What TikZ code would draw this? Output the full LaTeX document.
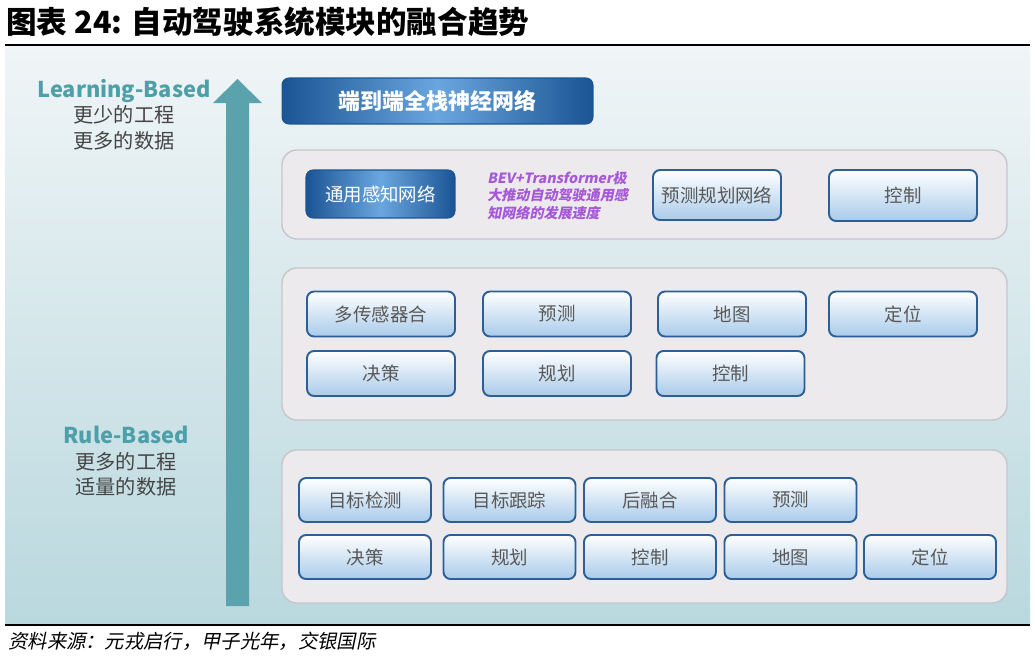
\documentclass[tikz,border=0pt]{standalone}
\usepackage{fontspec}
\usepackage{xcolor}
\setmainfont{Noto Sans}
\newfontfamily\cjk{Noto Sans CJK SC}
\newfontfamily\cjkslant[FakeSlant=0.2]{Noto Sans CJK SC}

\definecolor{bgtop}{HTML}{F0F5F7}
\definecolor{bgbottom}{HTML}{B9D8DE}
\definecolor{arrowteal}{HTML}{5AA3AD}
\definecolor{labelteal}{HTML}{4F9FA9}
\definecolor{labelgray}{HTML}{454545}
\definecolor{panelfill}{HTML}{ECEAED}
\definecolor{panelline}{HTML}{C6C6CB}
\definecolor{boxline}{HTML}{2B5F95}
\definecolor{boxbottom}{HTML}{A9CBEA}
\definecolor{boxtext}{HTML}{585858}
\definecolor{netdark}{HTML}{1B5494}
\definecolor{netlight}{HTML}{6AA6DE}
\definecolor{bevpurple}{HTML}{A558D8}

\begin{document}
\begin{tikzpicture}[x=0.02cm, y=-0.02cm,
  panel/.style={draw=panelline, fill=panelfill, rounded corners=0.3cm, line width=0.8pt},
  modbox/.style={draw=boxline, line width=1.1pt, rounded corners=0.14cm,
    top color=white, bottom color=boxbottom, text=boxtext, inner sep=0pt,
    font=\cjk\fontsize{10.5}{12}\selectfont},
  netbox/.style={draw=netdark, line width=0.6pt, rounded corners=0.14cm,
    left color=netdark, right color=netdark, middle color=netlight,
    text=white, inner sep=0pt},
  sidelabel/.style={font=\cjk\fontsize{11.5}{13}\selectfont, text=labelgray},
  basedlabel/.style={font=\cjk\bfseries\fontsize{12.4}{14}\selectfont, text=labelteal}
]
  \useasboundingbox (0,0) rectangle (1035,656);

  % title and rules
  \node[anchor=west, inner sep=0pt, font=\cjk\bfseries\fontsize{17.4}{20}\selectfont] (title) at (6,22) {图表 24: 自动驾驶系统模块的融合趋势};
  \fill[top color=bgtop, bottom color=bgbottom] (5,46) rectangle (1030,624);
  \draw[line width=0.04cm] (5,44.5) -- (1030,44.5);
  \draw[line width=0.04cm] (5,625) -- (1030,625);
  \node[anchor=west, inner sep=0pt, font=\cjkslant\fontsize{11}{13}\selectfont] (source) at (8,641) {资料来源：元戎启行，甲子光年，交银国际};

  % the big arrow
  \fill[arrowteal] (226,606) -- (226,103) -- (213,103) -- (237.5,79) -- (262,103) -- (249,103) -- (249,606) -- cycle;

  \node[basedlabel] (learn) at (124,91) {Learning-Based};
  \node[sidelabel] (learn1) at (124,115) {更少的工程};
  \node[sidelabel] (learn2) at (124,141) {更多的数据};
  \node[basedlabel] (rule) at (126,435) {Rule-Based};
  \node[sidelabel] (rule1) at (126,462) {更多的工程};
  \node[sidelabel] (rule2) at (126,487) {适量的数据};

  % end to end
  \node[netbox, minimum width=6.22cm, minimum height=0.92cm,
    font=\cjk\bfseries\fontsize{12.5}{14}\selectfont] (e2e) at (437.5,101) {端到端全栈神经网络};

  % layer 1
  \draw[panel] (282,150) rectangle (1007,239);
  \node[netbox, minimum width=2.98cm, minimum height=0.96cm,
    font=\cjk\fontsize{10.5}{12}\selectfont] (percep) at (380.5,194) {通用感知网络};
  \node[anchor=west, align=left, inner sep=0pt, text=bevpurple,
    font=\cjkslant\bfseries\fontsize{8}{9.9}\selectfont] (bev) at (487,195.5)
    {BEV+Transformer极\\大推动自动驾驶通用感\\知网络的发展速度};
  \node[modbox, minimum width=2.56cm, minimum height=1.0cm] (predplan) at (717,195) {预测规划网络};
  \node[modbox, minimum width=2.96cm, minimum height=1.02cm] (ctrlA) at (903,195.5) {控制};

  % layer 2
  \draw[panel] (282,268) rectangle (1007,420);
  \foreach \nm/\cx/\txt in {mA/381/多传感器合, mB/557/预测, mC/732/地图, mD/903/定位}
    \node[modbox, minimum width=2.96cm, minimum height=0.9cm] (\nm) at (\cx,314) {\txt};
  \foreach \nm/\cx/\txt in {mE/381/决策, mF/557/规划, mG/730.5/控制}
    \node[modbox, minimum width=2.96cm, minimum height=0.9cm] (\nm) at (\cx,373.5) {\txt};

  % layer 3
  \draw[panel] (282,450) rectangle (1007,603);
  \foreach \nm/\cx/\txt in {rA/365/目标检测, rB/509.5/目标跟踪, rC/650/后融合, rD/790.5/预测}
    \node[modbox, minimum width=2.64cm, minimum height=0.88cm] (\nm) at (\cx,500) {\txt};
  \foreach \nm/\cx/\txt in {rE/365/决策, rF/509.5/规划, rG/650/控制, rH/790.5/地图, rI/930/定位}
    \node[modbox, minimum width=2.64cm, minimum height=0.88cm] (\nm) at (\cx,557) {\txt};
\end{tikzpicture}
\end{document}
